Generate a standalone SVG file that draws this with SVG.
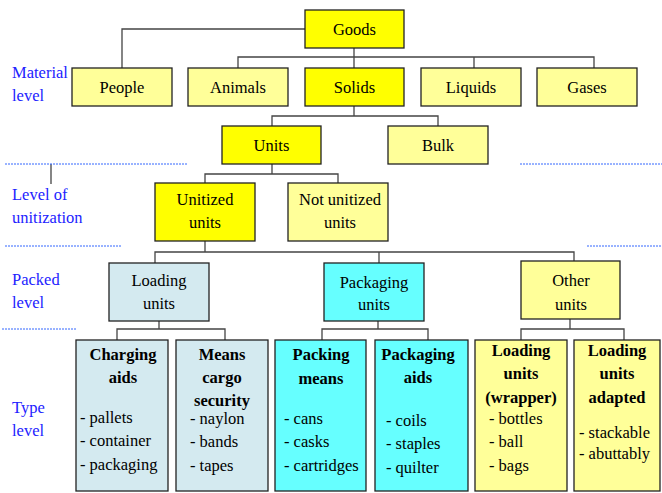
<svg xmlns="http://www.w3.org/2000/svg" width="662" height="493" viewBox="0 0 662 493" font-family="'Liberation Serif', 'Times New Roman', Tinos, 'DejaVu Serif', serif">
<style>
rect{stroke:#222;stroke-width:1.3}
.y1{fill:#ffff00}.y2{fill:#ffff99}.b1{fill:#d4eaf0}.c1{fill:#66ffff}
text{font-family:'Liberation Serif','Times New Roman',Tinos,'DejaVu Serif',serif;font-size:16.5px;fill:#000}
.c{text-anchor:middle}
.b{font-weight:bold}
.lbl{fill:#2222ff}
.conn line,.conn polyline{stroke:#444;stroke-width:1.3;fill:none}
.dash{stroke:#3366ff;stroke-width:1;stroke-dasharray:2 1}
</style>
<rect width="662" height="493" fill="#fff" style="stroke:none"/>
<g class="conn">
<polyline points="305,29 122,29 122,68"/>
<line x1="354" y1="48" x2="354" y2="68"/>
<polyline points="238,68 238,57 594,57 594,68"/>
<line x1="474" y1="57" x2="474" y2="68"/>
<line x1="354" y1="106" x2="354" y2="116"/>
<polyline points="272,126 272,116 438,116 438,126"/>
<line x1="272" y1="164" x2="272" y2="174"/>
<polyline points="205,183 205,174 338,174 338,183"/>
<line x1="205" y1="241" x2="205" y2="252"/>
<polyline points="155,263 155,252 574,252 574,261"/>
<line x1="379" y1="252" x2="379" y2="263"/>
<line x1="159" y1="321" x2="159" y2="329"/>
<polyline points="117,340 117,329 225,329 225,340"/>
<line x1="378" y1="321" x2="378" y2="329"/>
<polyline points="322,340 322,329 428,329 428,340"/>
<line x1="570" y1="319" x2="570" y2="329"/>
<polyline points="521,340 521,329 624,329 624,340"/>
<line x1="51" y1="164" x2="51" y2="184"/>
<line x1="617" y1="406" x2="617" y2="412"/>
</g>
<g id="dashes">
<line class="dash" x1="5" y1="164" x2="188" y2="164"/>
<line class="dash" x1="520" y1="164" x2="662" y2="164"/>
<line class="dash" x1="5" y1="246" x2="122" y2="246"/>
<line class="dash" x1="587" y1="246" x2="662" y2="246"/>
<line class="dash" x1="2" y1="329" x2="76" y2="329"/>
</g>
<g id="labels">
<text class="lbl" x="12" y="78">Material</text>
<text class="lbl" x="12" y="101">level</text>
<text class="lbl" x="12" y="200">Level of</text>
<text class="lbl" x="12" y="223">unitization</text>
<text class="lbl" x="12" y="285">Packed</text>
<text class="lbl" x="12" y="308">level</text>
<text class="lbl" x="12" y="413">Type</text>
<text class="lbl" x="12" y="436">level</text>
</g>
<g id="goods"><rect class="y1" x="305" y="10" width="99" height="38"/><text class="c" x="354.5" y="35">Goods</text></g>
<g id="people"><rect class="y2" x="72" y="68" width="100" height="38"/><text class="c" x="122" y="93">People</text></g>
<g id="animals"><rect class="y2" x="188" y="68" width="100" height="38"/><text class="c" x="238" y="93">Animals</text></g>
<g id="solids"><rect class="y1" x="305" y="68" width="99" height="38"/><text class="c" x="354.5" y="93">Solids</text></g>
<g id="liquids"><rect class="y2" x="421" y="68" width="100" height="38"/><text class="c" x="471" y="93">Liquids</text></g>
<g id="gases"><rect class="y2" x="537" y="68" width="100" height="38"/><text class="c" x="587" y="93">Gases</text></g>
<g id="units"><rect class="y1" x="222" y="126" width="99" height="38"/><text class="c" x="271.5" y="151">Units</text></g>
<g id="bulk"><rect class="y2" x="388" y="126" width="100" height="38"/><text class="c" x="438" y="151">Bulk</text></g>
<g id="unitized"><rect class="y1" x="155" y="183" width="100" height="58"/><text class="c" x="205" y="205">Unitized</text><text class="c" x="205" y="228">units</text></g>
<g id="notunitized"><rect class="y2" x="288" y="183" width="100" height="58"/><text class="c" x="340" y="205">Not unitized</text><text class="c" x="340" y="228">units</text></g>
<g id="loadingunits"><rect class="b1" x="109" y="263" width="100" height="58"/><text class="c" x="159" y="286">Loading</text><text class="c" x="159" y="309">units</text></g>
<g id="packagingunits"><rect class="c1" x="324" y="263" width="100" height="58"/><text class="c" x="374" y="288">Packaging</text><text class="c" x="374" y="310">units</text></g>
<g id="otherunits"><rect class="y2" x="521" y="261" width="99" height="58"/><text class="c" x="571" y="286">Other</text><text class="c" x="571" y="310">units</text></g>
<g id="chargingaids"><rect class="b1" x="76" y="340" width="92" height="151"/>
<text class="c b" x="123" y="360">Charging</text><text class="c b" x="123" y="383">aids</text>
<text x="80" y="423">- pallets</text><text x="80" y="446">- container</text><text x="80" y="470">- packaging</text></g>
<g id="meanscargo"><rect class="b1" x="176" y="340" width="92" height="151"/>
<text class="c b" x="222" y="360">Means</text><text class="c b" x="222" y="383">cargo</text><text class="c b" x="222" y="406">security</text>
<text x="190" y="424">- naylon</text><text x="190" y="447">- bands</text><text x="190" y="471">- tapes</text></g>
<g id="packingmeans"><rect class="c1" x="275" y="340" width="91" height="151"/>
<text class="c b" x="321" y="360">Packing</text><text class="c b" x="321" y="384">means</text>
<text x="284" y="424">- cans</text><text x="284" y="447">- casks</text><text x="284" y="471">- cartridges</text></g>
<g id="packagingaids"><rect class="c1" x="375" y="340" width="93" height="151"/>
<text class="c b" x="418" y="360">Packaging</text><text class="c b" x="418" y="383">aids</text>
<text x="386" y="426">- coils</text><text x="386" y="449">- staples</text><text x="386" y="473">- quilter</text></g>
<g id="wrapper"><rect class="y2" x="475" y="340" width="92" height="151"/>
<text class="c b" x="521" y="356">Loading</text><text class="c b" x="521" y="379">units</text><text class="c b" x="521" y="403">(wrapper)</text>
<text x="489" y="424">- bottles</text><text x="489" y="447">- ball</text><text x="489" y="471">- bags</text></g>
<g id="adapted"><rect class="y2" x="574" y="340" width="86" height="151"/>
<text class="c b" x="617" y="356">Loading</text><text class="c b" x="617" y="379">units</text><text class="c b" x="617" y="403">adapted</text>
<text x="579" y="438">- stackable</text><text x="579" y="459">- abuttably</text></g>
</svg>
